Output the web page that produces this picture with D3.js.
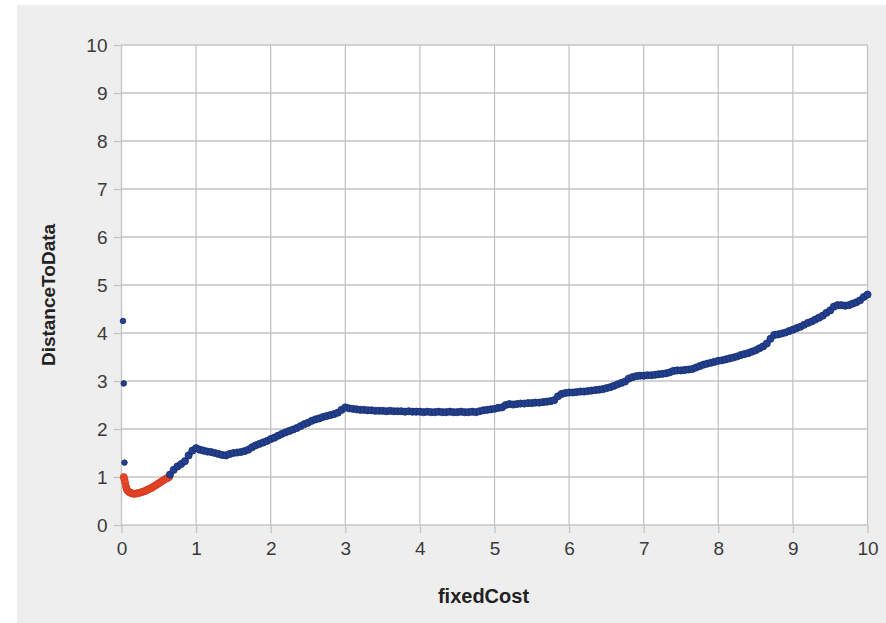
<!DOCTYPE html>
<html>
<head>
<meta charset="utf-8">
<script src="https://cdn.jsdelivr.net/npm/d3@7/dist/d3.min.js"></script>
<style>
  html, body { margin: 0; padding: 0; background: #ffffff; }
  svg { display: block; }
  text { font-family: "Liberation Sans", Arial, Helvetica, sans-serif; }
</style>
</head>
<body>
<svg id="chart" width="886" height="623"></svg>
<script>
// Axis ticks
const xTicks = [0, 1, 2, 3, 4, 5, 6, 7, 8, 9, 10];
const yTicks = [0, 1, 2, 3, 4, 5, 6, 7, 8, 9, 10];

// Isolated points near fixedCost = 0
const outlierPoints = [[0.02, 4.25], [0.03, 2.95], [0.04, 1.30]];

// Low-cost segment (drawn in red)
const redPoints = [
  [0.03, 1.00], [0.04, 0.95], [0.05, 0.88], [0.06, 0.80], [0.07, 0.75],
  [0.08, 0.72], [0.10, 0.69], [0.12, 0.67], [0.14, 0.66], [0.16, 0.65],
  [0.18, 0.65], [0.20, 0.66], [0.22, 0.66], [0.24, 0.67], [0.26, 0.68],
  [0.28, 0.69], [0.30, 0.70], [0.32, 0.71], [0.34, 0.73], [0.36, 0.74],
  [0.38, 0.76], [0.40, 0.77], [0.42, 0.79], [0.44, 0.81], [0.46, 0.83],
  [0.48, 0.85], [0.50, 0.87], [0.52, 0.89], [0.54, 0.91], [0.56, 0.93],
  [0.58, 0.95], [0.60, 0.97], [0.62, 0.98], [0.64, 1.00]
];

// Main segment (drawn in blue)
const bluePoints = [
  [0.65, 1.05], [0.70, 1.15], [0.75, 1.22], [0.80, 1.27], [0.85, 1.33],
  [0.90, 1.45], [0.95, 1.55], [1.00, 1.60], [1.05, 1.57], [1.10, 1.55],
  [1.15, 1.53], [1.20, 1.52], [1.25, 1.50], [1.30, 1.48], [1.35, 1.46],
  [1.40, 1.45], [1.45, 1.48], [1.50, 1.50], [1.55, 1.51], [1.60, 1.52],
  [1.65, 1.54], [1.70, 1.57], [1.75, 1.62], [1.80, 1.66], [1.85, 1.69],
  [1.90, 1.72], [1.95, 1.75], [2.00, 1.79], [2.05, 1.82], [2.10, 1.86],
  [2.15, 1.90], [2.20, 1.93], [2.25, 1.96], [2.30, 1.99], [2.35, 2.02],
  [2.40, 2.06], [2.45, 2.10], [2.50, 2.13], [2.55, 2.17], [2.60, 2.20],
  [2.65, 2.22], [2.70, 2.25], [2.75, 2.27], [2.80, 2.29], [2.85, 2.31],
  [2.90, 2.34], [2.95, 2.40], [3.00, 2.45], [3.05, 2.43], [3.10, 2.42],
  [3.15, 2.41], [3.20, 2.40], [3.25, 2.40], [3.30, 2.39], [3.35, 2.39],
  [3.40, 2.38], [3.45, 2.38], [3.50, 2.38], [3.55, 2.37], [3.60, 2.38],
  [3.65, 2.37], [3.70, 2.37], [3.75, 2.37], [3.80, 2.36], [3.85, 2.37],
  [3.90, 2.36], [3.95, 2.36], [4.00, 2.36], [4.05, 2.35], [4.10, 2.36],
  [4.15, 2.35], [4.20, 2.35], [4.25, 2.36], [4.30, 2.35], [4.35, 2.35],
  [4.40, 2.36], [4.45, 2.35], [4.50, 2.35], [4.55, 2.36], [4.60, 2.35],
  [4.65, 2.35], [4.70, 2.36], [4.75, 2.35], [4.80, 2.37], [4.85, 2.39],
  [4.90, 2.40], [4.95, 2.41], [5.00, 2.42], [5.05, 2.44], [5.10, 2.45],
  [5.15, 2.50], [5.20, 2.52], [5.25, 2.51], [5.30, 2.52], [5.35, 2.53],
  [5.40, 2.53], [5.45, 2.54], [5.50, 2.54], [5.55, 2.55], [5.60, 2.55],
  [5.65, 2.56], [5.70, 2.57], [5.75, 2.58], [5.80, 2.60], [5.85, 2.68],
  [5.90, 2.73], [5.95, 2.75], [6.00, 2.76], [6.05, 2.76], [6.10, 2.77],
  [6.15, 2.78], [6.20, 2.78], [6.25, 2.79], [6.30, 2.80], [6.35, 2.81],
  [6.40, 2.82], [6.45, 2.83], [6.50, 2.85], [6.55, 2.87], [6.60, 2.90],
  [6.65, 2.93], [6.70, 2.96], [6.75, 2.99], [6.80, 3.05], [6.85, 3.08],
  [6.90, 3.10], [6.95, 3.11], [7.00, 3.11], [7.05, 3.12], [7.10, 3.12],
  [7.15, 3.13], [7.20, 3.14], [7.25, 3.15], [7.30, 3.16], [7.35, 3.18],
  [7.40, 3.21], [7.45, 3.22], [7.50, 3.22], [7.55, 3.23], [7.60, 3.24],
  [7.65, 3.25], [7.70, 3.28], [7.75, 3.31], [7.80, 3.34], [7.85, 3.36],
  [7.90, 3.38], [7.95, 3.40], [8.00, 3.42], [8.05, 3.43], [8.10, 3.45],
  [8.15, 3.47], [8.20, 3.49], [8.25, 3.51], [8.30, 3.54], [8.35, 3.56],
  [8.40, 3.58], [8.45, 3.61], [8.50, 3.64], [8.55, 3.68], [8.60, 3.72],
  [8.65, 3.78], [8.70, 3.88], [8.75, 3.96], [8.80, 3.97], [8.85, 3.99],
  [8.90, 4.01], [8.95, 4.04], [9.00, 4.07], [9.05, 4.10], [9.10, 4.13],
  [9.15, 4.17], [9.20, 4.21], [9.25, 4.24], [9.30, 4.28], [9.35, 4.32],
  [9.40, 4.36], [9.45, 4.42], [9.50, 4.47], [9.55, 4.55], [9.60, 4.58],
  [9.65, 4.58], [9.70, 4.57], [9.75, 4.58], [9.80, 4.61], [9.85, 4.64],
  [9.90, 4.68], [9.95, 4.75], [10.00, 4.80]
];

const svg = d3.select("#chart");

// Outer grey panel
svg.append("rect")
  .attr("x", 17).attr("y", 5)
  .attr("width", 869).attr("height", 618)
  .attr("fill", "#eeeeee");

const plot = { left: 121.5, right: 867.5, top: 45, bottom: 525 };

const x = d3.scaleLinear().domain([0, 10]).range([plot.left, plot.right]);
const y = d3.scaleLinear().domain([0, 10]).range([plot.bottom, plot.top]);

// Plot area
svg.append("rect")
  .attr("x", plot.left).attr("y", plot.top)
  .attr("width", plot.right - plot.left)
  .attr("height", plot.bottom - plot.top)
  .attr("fill", "#ffffff");

// Grid lines
const grid = svg.append("g").attr("stroke", "#c4c4c4").attr("stroke-width", 1.3);
grid.selectAll("line.v").data(xTicks).join("line")
  .attr("class", "v")
  .attr("x1", d => x(d)).attr("x2", d => x(d))
  .attr("y1", plot.top).attr("y2", plot.bottom);
grid.selectAll("line.h").data(yTicks).join("line")
  .attr("class", "h")
  .attr("x1", plot.left).attr("x2", plot.right)
  .attr("y1", d => y(d)).attr("y2", d => y(d));

// Axes
const xAxis = d3.axisBottom(x).tickValues(xTicks).tickSize(8).tickPadding(9);
const yAxis = d3.axisLeft(y).tickValues(yTicks).tickSize(8).tickPadding(6);

const gx = svg.append("g")
  .attr("transform", `translate(0,${plot.bottom})`)
  .call(xAxis);
const gy = svg.append("g")
  .attr("transform", `translate(${plot.left},0)`)
  .call(yAxis);

[gx, gy].forEach(g => {
  g.select(".domain").remove();
  g.selectAll(".tick line").attr("stroke", "#c4c4c4").attr("stroke-width", 1.3);
  g.selectAll(".tick text")
    .attr("fill", "#3a3a3a")
    .style("font-size", "19px");
});

// Points
const dots = svg.append("g");
function drawDots(data, fill, stroke, r) {
  dots.append("g").selectAll("circle").data(data).join("circle")
    .attr("cx", d => x(d[0]))
    .attr("cy", d => y(d[1]))
    .attr("r", r)
    .attr("fill", fill)
    .attr("stroke", stroke)
    .attr("stroke-width", 0.8);
}
drawDots(outlierPoints, "#22408f", "#162c6a", 2.8);
drawDots(redPoints, "#ea4a2c", "#d23a1f", 3.5);
drawDots(bluePoints, "#22408f", "#162c6a", 3.6);

// Axis titles
svg.append("text")
  .attr("x", (plot.left + plot.right) / 2 - 11)
  .attr("y", 603)
  .attr("text-anchor", "middle")
  .attr("fill", "#222")
  .style("font-size", "20px")
  .style("font-weight", "bold")
  .text("fixedCost");

svg.append("text")
  .attr("transform", `translate(55,${(plot.top + plot.bottom) / 2 + 10}) rotate(-90)`)
  .attr("text-anchor", "middle")
  .attr("fill", "#222")
  .style("font-size", "19px")
  .style("font-weight", "bold")
  .text("DistanceToData");
</script>
</body>
</html>
